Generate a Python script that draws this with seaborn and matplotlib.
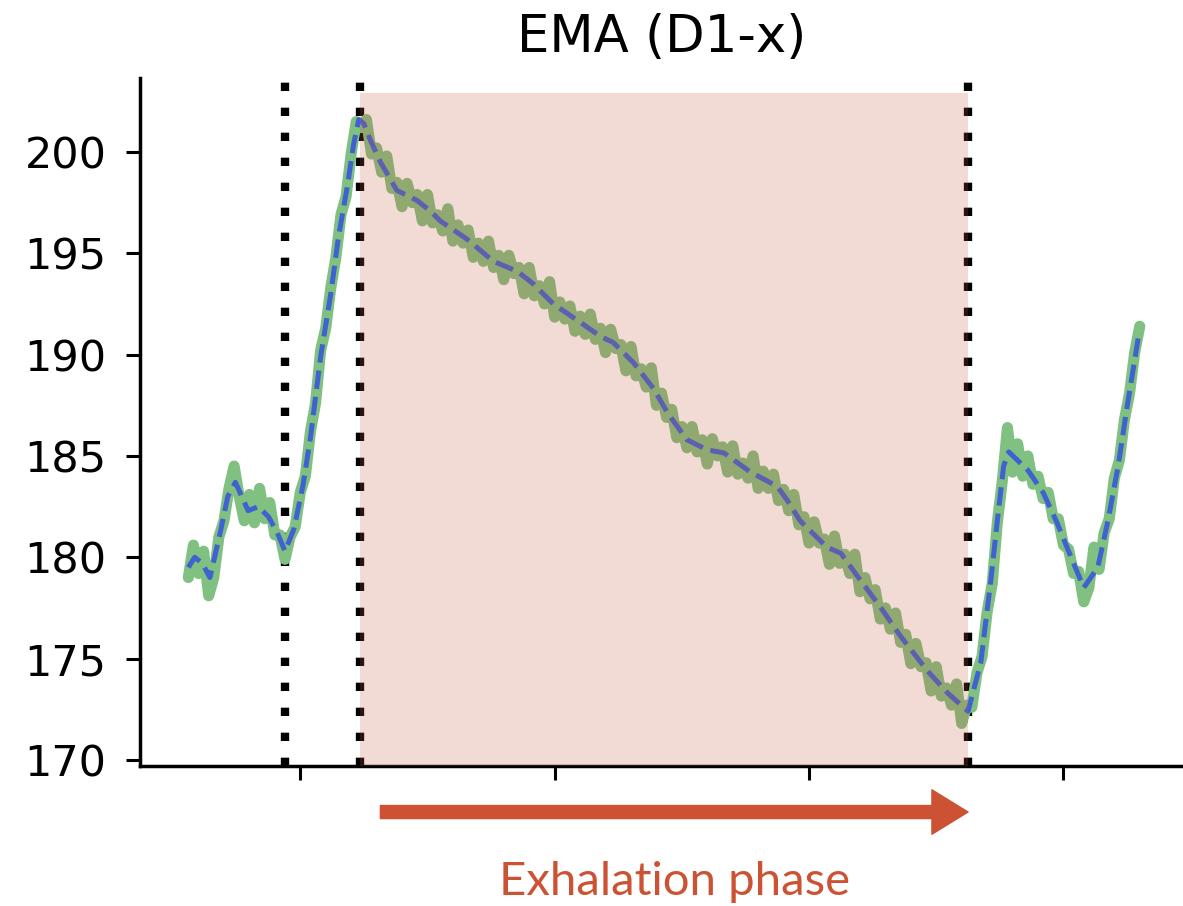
import numpy as np
import pandas as pd
import seaborn as sns
import matplotlib.pyplot as plt

# raw signal (one value every 4 frames)
raw_x = np.arange(112, 861, 4)
raw_y = [
    # 112 - 188
    179.0, 180.6, 179.2, 180.3, 178.1, 179.0, 181.0, 181.8, 183.4, 184.5,
    183.0, 181.8, 183.1, 181.7, 183.4, 181.9, 182.7, 181.1, 181.1, 179.9,
    # 192 - 248
    181.0, 181.5, 183.2, 184.0, 186.2, 187.6, 190.2, 191.3, 193.3, 194.8,
    196.9, 197.8, 199.9, 201.5, 201.2,
    # 252 - 724
    201.6, 199.9, 200.2, 199.0, 199.8, 198.2, 198.5, 197.3, 198.45, 197.5,
    197.9, 196.6, 197.9, 196.5, 196.9, 196.1, 197.2, 195.6, 196.4, 195.5,
    196.15, 194.8, 195.5, 194.6, 195.6, 194.3, 194.9, 193.7, 194.9, 194.0,
    194.3, 193.0, 194.3, 192.9, 193.4, 192.5, 193.6, 191.85, 192.6, 191.75,
    192.4, 191.15, 191.9, 191.0, 192.0, 190.75, 191.3, 190.1, 191.25, 190.3,
    190.5, 189.2, 190.4, 188.95, 189.3, 188.4, 189.35, 187.5, 188.1, 186.9,
    187.3, 185.9, 186.45, 185.4, 186.45, 185.2, 185.8, 184.6, 185.85, 185.0,
    185.45, 184.2, 185.5, 184.1, 184.65, 183.9, 185.0, 183.4, 184.25, 183.4,
    184.1, 182.8, 183.35, 182.3, 183.1, 181.6, 182.0, 180.7, 181.75, 180.7,
    180.9, 179.65, 181.05, 179.7, 180.15, 179.2, 180.15, 178.3, 179.0, 177.95,
    178.4, 176.95, 177.5, 176.45, 177.25, 175.8, 176.2, 174.75, 175.75, 174.6,
    174.8, 173.4, 174.6, 173.15, 173.55, 172.7, 173.75, 171.8, 172.7,
    # 728 - 860
    172.6, 174.3, 175.1, 177.3, 178.7, 181.7, 183.8, 186.4, 184.2, 185.6,
    184.0, 185.0, 183.6, 184.0, 182.9, 183.2, 181.9, 181.9, 180.6, 180.4,
    179.2, 179.3, 177.8, 178.5, 180.5, 179.4, 181.2, 181.9, 183.9, 184.8,
    186.8, 188.1, 190.1, 191.4,
]

# exponential moving average
ema_x = [112, 117, 123, 129, 137, 143, 149, 154, 159, 167,
         175, 182, 188, 195, 202, 208, 216, 224, 230, 237,
         242, 246, 250, 255, 263, 276, 292, 302, 310, 331,
         352, 371, 383, 399, 420, 436, 446, 462, 478, 489,
         504, 520, 533, 554, 575, 583, 593, 614, 625, 640,
         656, 672, 693, 709, 725, 735, 743, 748, 753, 757,
         772, 784, 795, 806, 816, 827, 835, 843, 850, 859]
ema_y = [179.5, 180.0, 179.7, 179.0, 181.2, 183.0, 183.7, 183.0, 182.3, 182.5,
         182.0, 181.2, 180.3, 181.4, 183.5, 185.9, 189.9, 193.0, 195.8, 198.3,
         200.4, 201.6, 201.4, 200.6, 199.5, 198.1, 197.6, 197.1, 196.6, 195.7,
         194.6, 194.1, 193.5, 192.5, 191.6, 190.9, 190.6, 189.6, 188.3, 187.1,
         185.8, 185.3, 185.15, 184.2, 183.5, 182.8, 181.8, 180.5, 180.2, 178.9,
         177.55, 176.1, 174.4, 173.3, 172.4, 174.8, 178.9, 181.8, 184.5, 185.2,
         184.3, 183.2, 181.7, 180.0, 178.5, 179.5, 181.8, 184.5, 187.4, 190.9]

phase_bounds = [188, 247, 725]
exhale_start, exhale_end = 247, 725
span_top = 202.9
arrow_start = 263

xticks = [200, 400, 600, 800]
yticks = [170, 175, 180, 185, 190, 195, 200]

sns.set_theme(style="ticks")
plt.rcParams['font.family'] = ['DejaVu Sans']

fig = plt.figure(figsize=(11.83, 9.06), dpi=100)
ax = fig.add_axes([140 / 1183, 1 - 766 / 906, 1 - 140 / 1183, (766 - 78) / 906])

raw = pd.DataFrame({'t': raw_x, 'v': raw_y})
ema = pd.DataFrame({'t': ema_x, 'v': ema_y})

sns.lineplot(data=raw, x='t', y='v', color='#80C080', linewidth=8,
             estimator=None, ax=ax, zorder=2)
sns.lineplot(data=ema, x='t', y='v', color='#3F62D0', linewidth=3.6,
             linestyle='--', estimator=None, ax=ax, zorder=3)

for b in phase_bounds:
    ax.axvline(b, color='black', linewidth=6, linestyle=(0, (1, 2.0)), zorder=1)

ylo, yhi = 169.7, 203.65
ax.fill_between([exhale_start, exhale_end], ylo, span_top,
                color='#C85B40', alpha=0.22, linewidth=0, zorder=5)

ax.set_xlim(74, 894)
ax.set_ylim(ylo, yhi)
ax.set_xticks(xticks)
ax.set_xticklabels([])
ax.set_yticks(yticks)
ax.set_xlabel('')
ax.set_ylabel('')
ax.tick_params(axis='both', length=10, width=2.2, labelsize=31, colors='black')
ax.tick_params(axis='y', pad=14)
sns.despine(ax=ax)
for s in ['left', 'bottom']:
    ax.spines[s].set_linewidth(2.5)
    ax.spines[s].set_color('black')

ax.set_title('EMA (D1-x)', fontsize=37, pad=19, color='black')

# phase annotation below the axis
trans = ax.get_xaxis_transform()
ax.annotate('', xy=(exhale_end, -0.0669), xytext=(arrow_start, -0.0669),
            xycoords=trans, textcoords=trans, annotation_clip=False,
            arrowprops=dict(arrowstyle='simple,head_length=2.6,head_width=3.2,tail_width=0.94',
                            mutation_scale=10, color='#CC5233', shrinkA=0, shrinkB=0))
ax.text((arrow_start + exhale_end) / 2, -0.1875, 'Exhalation phase', transform=trans,
        ha='center', va='baseline', fontsize=34, color='#CC5233', family=['Lato'])

fig.savefig('out.png', dpi=100)
